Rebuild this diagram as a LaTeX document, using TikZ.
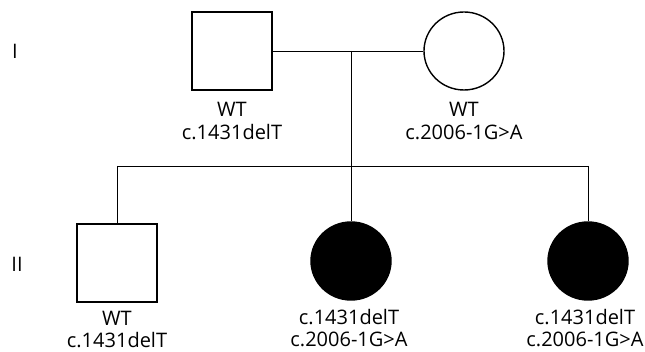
\documentclass[tikz,border=0pt]{standalone}
\usepackage{fontspec}
\setmainfont{Open Sans}
\usetikzlibrary{shapes.geometric}
\begin{document}
\begin{tikzpicture}[x=1pt,y=-1pt,
  male/.style={draw,line width=1.4pt,rectangle,minimum width=80pt,minimum height=78pt,inner sep=0pt},
  female/.style={draw,line width=1.4pt,ellipse,minimum width=80pt,minimum height=78pt,inner sep=0pt},
  affected/.style={fill=black},
  link/.style={line width=0.8pt},
  lab/.style={anchor=base,inner sep=0pt,font=\fontsize{20}{24}\selectfont}]
\useasboundingbox (0,0) rectangle (645,352);

% generation numerals
\node[lab] (g1) at (15,59) {I};
\node[lab] (g2) at (17,272) {II};

% generation I
\node[male]   (father) at (232,51) {};
\node[female] (mother) at (464,51) {};
\node[lab] (fatherlabA) at (232,117) {WT};
\node[lab] (fatherlabB) at (232,140) {c.1431delT};
\node[lab] (motherlabA) at (464,117) {WT};
\node[lab] (motherlabB) at (464,140) {c.2006-1G>A};

% generation II
\node[male] (son) at (117,263) {};
\node[female,affected] (d1) at (351,261) {};
\node[female,affected] (d2) at (588,261) {};
\node[lab] (sonlabA) at (117,326) {WT};
\node[lab] (sonlabB) at (117,348) {c.1431delT};
\node[lab] (d1labA) at (349,325) {c.1431delT};
\node[lab] (d1labB) at (349,347) {c.2006-1G>A};
\node[lab] (d2labA) at (585,325) {c.1431delT};
\node[lab] (d2labB) at (585,347) {c.2006-1G>A};

% marriage, descent and sibship lines
\coordinate (mid) at (351,51);
\coordinate (sib) at (351,166);
\coordinate (sibL) at (117,166);
\coordinate (sibR) at (588,166);
\draw[link] (father.east) -- (mother.west);
\draw[link] (mid) -- (sib);
\draw[link] (sibL) -- (sibR);
\draw[link] (sibL) -- (son.north);
\draw[link] (sib) -- (d1.north);
\draw[link] (sibR) -- (d2.north);
\end{tikzpicture}
\end{document}
